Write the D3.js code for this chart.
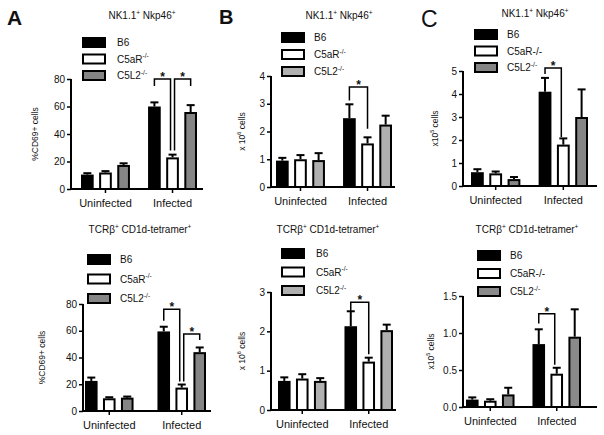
<!DOCTYPE html>
<html><head><meta charset="utf-8">
<script src="https://cdn.jsdelivr.net/npm/d3@7"></script>
<style>body{margin:0;background:#fff} text{font-family:Arial,"Liberation Sans",Helvetica,sans-serif;fill:#111}</style>
</head><body><svg id="c" width="604" height="435"></svg>
<script>
const groups = ["Uninfected", "Infected"];
const strains = ["B6", "C5aR", "C5L2"];
// order: Uninfected B6, C5aR, C5L2, then Infected B6, C5aR, C5L2
const aTopMean = [10.5, 12, 17.5, 60, 23, 56];
const aTopErr  = [1, 1, 1.2, 3, 2, 5];
const bTopMean = [0.95, 1.0, 0.97, 2.48, 1.57, 2.25];
const bTopErr  = [0.1, 0.15, 0.25, 0.5, 0.22, 0.32];
const cTopMean = [0.6, 0.55, 0.3, 4.1, 1.8, 3.0];
const cTopErr  = [0.13, 0.08, 0.09, 0.6, 0.27, 1.2];
const aBotMean = [22.5, 9.5, 10, 59.5, 17.5, 44];
const aBotErr  = [2.5, 0.8, 0.8, 3.5, 2.3, 3.5];
const bBotMean = [0.74, 0.8, 0.74, 2.13, 1.23, 2.03];
const bBotErr  = [0.09, 0.11, 0.07, 0.38, 0.1, 0.14];
const cBotMean = [0.1, 0.085, 0.17, 0.85, 0.45, 0.95];
const cBotErr  = [0.03, 0.02, 0.09, 0.2, 0.08, 0.37];

const ticksPct = [0, 20, 40, 60, 80];
const ticksB4 = [0, 1, 2, 3, 4];
const ticksC5 = [0, 1, 2, 3, 4, 5];
const ticksB3 = [0, 1, 2, 3];
const ticksC15 = [0, 0.5, 1.0, 1.5];

// significance brackets: horizontal line value, leg end values
const aTopBr = [
  {from: "B6", to: "C5aR", y: 80, yFrom: 75, yTo: 28, nFrom: 0, nTo: -1},
  {from: "C5aR", to: "C5L2", y: 80, yFrom: 28, yTo: 75, nFrom: 1, nTo: 0}];
const bTopBr = [{from: "B6", to: "C5aR", y: 3.6, yFrom: 3.12, yTo: 2.1, nFrom: 0, nTo: 0}];
const cTopBr = [{from: "B6", to: "C5aR", y: 5.13, yFrom: 4.87, yTo: 2.13, nFrom: 0, nTo: -1}];
const aBotBr = [
  {from: "B6", to: "C5aR", y: 76, yFrom: 67.5, yTo: 22, nFrom: 0, nTo: -1},
  {from: "C5aR", to: "C5L2", y: 57.5, yFrom: 22, yTo: 53, nFrom: 1, nTo: 0}];
const bBotBr = [{from: "B6", to: "C5aR", y: 2.74, yFrom: 2.5, yTo: 1.42, nFrom: 0, nTo: 0}];
const cBotBr = [{from: "B6", to: "C5aR", y: 1.26, yFrom: 1.13, yTo: 0.57, nFrom: 0, nTo: -1}];

const titleNK = [["NK1.1", 0], ["+", 1], [" Nkp46", 0], ["+", 1]];
const titleTCR = [["TCR\u03B2", 0], ["+", 1], [" CD1d-tetramer", 0], ["+", 1]];
const ylabPct = [["%CD69+ cells", 0]];
const ylabB = [["x 10", 0], ["6", 1], [" cells", 0]];
const ylabC = [["x10", 0], ["5", 1], [" cells", 0]];
const legendAB = [[["B6", 0]], [["C5aR", 0], ["-/-", 1]], [["C5L2", 0], ["-/-", 1]]];
const legendC = [[["B6", 0]], [["C5aR-/-", 0]], [["C5L2", 0], ["-/-", 1]]];

const svg = d3.select("#c");

function rich(sel, parts, size) {
  parts.forEach(([t, sup], i) => {
    const prevSup = i > 0 && parts[i - 1][1];
    const ts = sel.append("tspan").text(t);
    if (sup) ts.attr("font-size", size * 0.65).attr("dy", -size * 0.42);
    else if (prevSup) ts.attr("dy", size * 0.42);
  });
}

const panels = [
  {mean: aTopMean, err: aTopErr, max: 80, ticks: ticksPct, fmt: d3.format("d"), ax: 71, y0: 189, y1: 79, xEnd: 203,
   gx: [81, 197], pi: 0.27, gray: "#858585", title: titleNK, tx: 142, ty: 19, ylab: ylabPct, ylx: 38,
   leg: {x: 82, y: 37, dy: 16.5, tx: 117}, legLabels: legendAB, br: aTopBr},
  {mean: bTopMean, err: bTopErr, max: 4, ticks: ticksB4, fmt: d3.format("d"), ax: 271, y0: 187, y1: 76, xEnd: 395,
   gx: [276, 392], pi: 0.27, gray: "#b0b0b0", title: titleNK, tx: 339, ty: 19, ylab: ylabB, ylx: 245,
   leg: {x: 281, y: 32, dy: 17, tx: 314}, legLabels: legendAB, br: bTopBr},
  {mean: cTopMean, err: cTopErr, max: 5, ticks: ticksC5, fmt: d3.format("d"), ax: 463, y0: 186, y1: 71, xEnd: 597,
   gx: [471, 588], pi: 0.27, gray: "#858585", title: titleNK, tx: 535, ty: 17, ylab: ylabC, ylx: 438,
   leg: {x: 474, y: 29, dy: 16.5, tx: 507}, legLabels: legendC, br: cTopBr},
  {mean: aBotMean, err: aBotErr, max: 80, ticks: ticksPct, fmt: d3.format("d"), ax: 83, y0: 411, y1: 304, xEnd: 211,
   gx: [85, 206], pi: 0.33, gray: "#858585", title: titleTCR, tx: 140, ty: 233, ylab: ylabPct, ylx: 45,
   leg: {x: 87, y: 254, dy: 19.5, tx: 120}, legLabels: legendAB, br: aBotBr},
  {mean: bBotMean, err: bBotErr, max: 3, ticks: ticksB3, fmt: d3.format("d"), ax: 271, y0: 410, y1: 292, xEnd: 396,
   gx: [278, 393], pi: 0.27, gray: "#b0b0b0", title: titleTCR, tx: 328, ty: 233, ylab: ylabB, ylx: 245,
   leg: {x: 281, y: 248, dy: 18.5, tx: 316}, legLabels: legendAB, br: bBotBr},
  {mean: cBotMean, err: cBotErr, max: 1.5, ticks: ticksC15, fmt: d3.format(".1f"), ax: 463, y0: 407, y1: 296, xEnd: 597,
   gx: [466, 581], pi: 0.27, gray: "#8a8a8a", title: titleTCR, tx: 527, ty: 233, ylab: ylabC, ylx: 434,
   leg: {x: 477, y: 250, dy: 18, tx: 510}, legLabels: legendC, br: cBotBr}
];

panels.forEach(p => {
  const g = svg.append("g");
  const y = d3.scaleLinear().domain([0, p.max]).range([p.y0, p.y1]);
  const x0 = d3.scaleBand().domain(groups).range(p.gx).paddingInner(p.pi).paddingOuter(0);
  const x1 = d3.scaleBand().domain(strains).range([0, x0.bandwidth()]).paddingInner(0.3).paddingOuter(0);
  const color = d3.scaleOrdinal().domain(strains).range(["#000", "#fff", p.gray]);

  const rows = [];
  groups.forEach((gr, gi) => strains.forEach((s, si) => rows.push({g: gr, s, m: p.mean[gi * 3 + si], e: p.err[gi * 3 + si]})));

  // error bars (behind bars)
  rows.forEach(r => {
    const cx = x0(r.g) + x1(r.s) + x1.bandwidth() / 2;
    g.append("line").attr("x1", cx).attr("x2", cx).attr("y1", y(r.m)).attr("y2", y(r.m + r.e))
      .attr("stroke", "#000").attr("stroke-width", 2);
    g.append("line").attr("x1", cx - 4).attr("x2", cx + 4).attr("y1", y(r.m + r.e)).attr("y2", y(r.m + r.e))
      .attr("stroke", "#000").attr("stroke-width", 2);
  });
  // bars
  g.selectAll("rect.bar").data(rows).join("rect").attr("class", "bar")
    .attr("x", d => x0(d.g) + x1(d.s) + 1).attr("width", x1.bandwidth() - 2)
    .attr("y", d => y(d.m) + 1).attr("height", d => Math.max(0, p.y0 - y(d.m) - 1))
    .attr("fill", d => color(d.s)).attr("stroke", "#000").attr("stroke-width", 2);

  // y axis
  const ya = d3.axisLeft(y).tickValues(p.ticks).tickFormat(p.fmt).tickSize(4).tickPadding(2);
  const yg = g.append("g").attr("transform", `translate(${p.ax},0)`).call(ya);
  yg.select(".domain").attr("d", `M0,${p.y1}V${p.y0 + 1}`).attr("stroke-width", 2);
  yg.selectAll(".tick line").attr("stroke-width", 1.5);
  yg.selectAll(".tick text").attr("font-size", 10).attr("font-family", "Arial, 'Liberation Sans', sans-serif").attr("fill", "#111");

  // x axis
  const xa = d3.axisBottom(x0).tickSize(4).tickPadding(6);
  const xg = g.append("g").attr("transform", `translate(0,${p.y0})`).call(xa);
  xg.select(".domain").attr("d", `M${p.ax - 1},0H${p.xEnd}`).attr("stroke-width", 2);
  xg.selectAll(".tick line").attr("stroke-width", 1.5);
  xg.selectAll(".tick text").attr("font-size", 11).attr("font-family", "Arial, 'Liberation Sans', sans-serif").attr("fill", "#111");

  // title
  const t = g.append("text").attr("x", p.tx).attr("y", p.ty).attr("text-anchor", "middle").attr("font-size", 10);
  rich(t, p.title, 10);

  // y label
  const yl = g.append("text").attr("transform", `translate(${p.ylx},${(p.y0 + p.y1) / 2}) rotate(-90)`)
    .attr("text-anchor", "middle").attr("font-size", 8.5);
  rich(yl, p.ylab, 8.5);

  // legend
  strains.forEach((s, i) => {
    const ly = p.leg.y + i * p.leg.dy;
    g.append("rect").attr("x", p.leg.x + 1).attr("y", ly + 1).attr("width", 22).attr("height", 9)
      .attr("fill", color(s)).attr("stroke", "#000").attr("stroke-width", 2);
    const lt = g.append("text").attr("x", p.leg.tx).attr("y", ly + 9).attr("font-size", 10);
    rich(lt, p.legLabels[i], 10);
  });

  // brackets
  p.br.forEach(b => {
    const xa_ = x0("Infected") + x1(b.from) + x1.bandwidth() / 2 + b.nFrom * 2;
    const xb_ = x0("Infected") + x1(b.to) + x1.bandwidth() / 2 + b.nTo * 2;
    g.append("path").attr("d", `M${xa_},${y(b.yFrom)}V${y(b.y)}H${xb_}V${y(b.yTo)}`)
      .attr("fill", "none").attr("stroke", "#000").attr("stroke-width", 1.5);
    g.append("text").attr("x", (xa_ + xb_) / 2).attr("y", y(b.y) + 2).attr("text-anchor", "middle")
      .attr("font-size", 12).attr("font-weight", "bold").text("*");
  });
});

// panel letters
svg.append("text").attr("x", 7).attr("y", 25).attr("font-size", 21).attr("font-weight", "bold").text("A");
svg.append("text").attr("x", 219).attr("y", 24).attr("font-size", 20).attr("font-weight", "bold").text("B");
svg.append("text").attr("x", 421).attr("y", 27).attr("font-size", 23).text("C");
</script></body></html>
